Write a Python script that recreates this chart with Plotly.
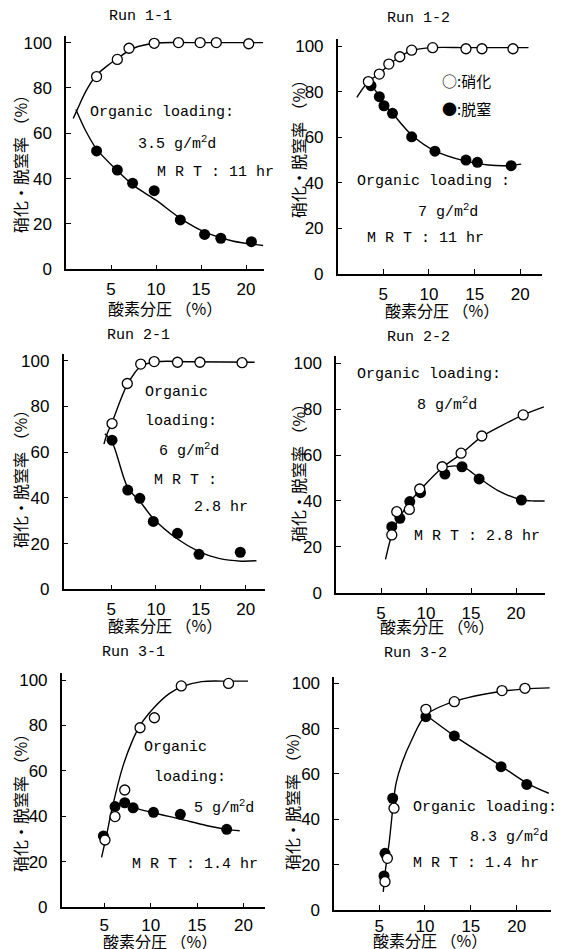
import plotly.graph_objects as go

# ---------------- data ----------------
x_tick_vals = [5, 10, 15, 20]
y_tick_vals = [0, 20, 40, 60, 80, 100]
run_titles = ["Run 1-1", "Run 1-2", "Run 2-1", "Run 2-2", "Run 3-1", "Run 3-2"]

# Run 1-1
r11_nit_x = [3.4, 5.7, 7.0, 9.8, 12.5, 14.9, 16.7, 20.3]
r11_nit_y = [85, 92.6, 97.5, 99.7, 100, 100, 100, 99.5]
r11_den_x = [3.4, 5.7, 7.4, 9.8, 12.7, 15.4, 17.2, 20.6]
r11_den_y = [52.2, 43.8, 38, 34.7, 21.8, 15.4, 13.7, 12.2]
r11_nit_fit_x = [0.8, 1.2, 2.2, 3.3, 4.5, 5.7, 7.5, 10, 14, 21.9]
r11_nit_fit_y = [66.5, 70, 78.5, 85.3, 89.5, 93, 97.5, 99.8, 100, 100]
r11_den_fit_x = [1.1, 2.2, 3.4, 5.7, 7.5, 10, 12.7, 15.4, 18.5, 21.9]
r11_den_fit_y = [70.5, 61, 53, 43.5, 37, 30.5, 22.5, 16.5, 12.5, 10.5]

# Run 1-2
r12_nit_x = [3.36, 4.56, 5.6, 6.8, 8.1, 10.4, 14.05, 15.8, 19.2]
r12_nit_y = [84.4, 87.7, 92.1, 95.3, 98.2, 99.3, 98.8, 98.8, 98.8]
r12_den_x = [3.65, 4.56, 5.07, 6.0, 8.1, 10.65, 14.05, 15.3, 19.0]
r12_den_y = [82.6, 77.8, 73.8, 70.5, 60.2, 53.9, 50, 49, 47.5]
r12_nit_fit_x = [2.1, 3.4, 4.6, 5.6, 6.8, 8.1, 10.4, 14, 20.9]
r12_nit_fit_y = [77.5, 84.5, 88, 91.7, 95.3, 98, 99.3, 99.3, 99.3]
r12_den_fit_x = [3.5, 4.6, 5.2, 6.0, 8.1, 10.65, 14, 16.5, 18.5, 20.1]
r12_den_fit_y = [83.5, 78, 74, 70.5, 61, 54, 49.5, 47.8, 47.5, 48.2]

# Run 2-1
r21_nit_x = [5.1, 6.8, 8.3, 9.8, 12.4, 14.9, 19.6]
r21_nit_y = [72.5, 90, 98.5, 99.6, 99.3, 99.3, 99.1]
r21_den_x = [5.1, 6.85, 8.2, 9.7, 12.4, 14.8, 19.4]
r21_den_y = [65.2, 43.4, 39.8, 29.7, 24.5, 15.3, 16.2]
r21_nit_fit_x = [4.2, 4.5, 5.1, 6.8, 8.3, 10, 14, 21.0]
r21_nit_fit_y = [63.5, 67.5, 73, 89.5, 97.5, 99.5, 99.5, 99.3]
r21_den_fit_x = [4.3, 5.1, 6.85, 8.2, 9.7, 12.4, 14.8, 17, 19.5, 21.2]
r21_den_fit_y = [68, 64.5, 44.5, 38.5, 31, 22, 16.5, 13.5, 12.3, 12.5]

# Run 2-2
r22_nit_x = [6.2, 6.75, 8.15, 9.3, 11.8, 13.9, 16.2, 20.8]
r22_nit_y = [25.2, 35.3, 36.3, 45.2, 54.9, 60.8, 68.3, 77.5]
r22_den_x = [6.2, 7.1, 8.2, 9.4, 12.1, 14.0, 15.9, 20.6]
r22_den_y = [28.8, 32.4, 39.7, 43.6, 51.7, 54.9, 49.6, 40.4]
r22_nit_fit_x = [5.5, 6.3, 7.1, 8.0, 9.4, 11.8, 13.9, 16.2, 18.5, 20.8, 23.1]
r22_nit_fit_y = [14.5, 26.5, 33, 38.5, 45, 54.5, 60.5, 68, 73, 77.5, 81]
r22_den_fit_x = [11.8, 13.2, 14.3, 15.9, 18, 20.6, 22, 23.2]
r22_den_fit_y = [54.5, 55.3, 54.5, 50, 44.5, 40.5, 40, 40]

# Run 3-1
r31_nit_x = [5.07, 6.15, 7.2, 8.85, 10.4, 13.3, 18.4]
r31_nit_y = [29.6, 39.9, 51.6, 79, 83.4, 97.4, 98.5]
r31_den_x = [4.9, 6.15, 7.2, 8.1, 10.3, 13.2, 18.2]
r31_den_y = [31.4, 44.3, 46, 43.8, 41.8, 40.9, 34.3]
r31_nit_fit_x = [4.7, 5.2, 5.8, 7.0, 8.0, 8.85, 10.4, 12, 13.3, 15.5, 18.4, 20.5]
r31_nit_fit_y = [22, 31, 42.8, 62, 73, 80, 88, 94, 97, 99.3, 99.5, 99.5]
r31_den_fit_x = [5.9, 6.5, 7.2, 8.1, 10.4, 13.2, 16, 18.2, 19.6]
r31_den_fit_y = [43, 45.5, 46, 44, 41.5, 38.8, 36, 34.3, 33.7]

# Run 3-2
r32_nit_x = [5.64, 5.9, 6.62, 10.1, 13.2, 18.4, 20.9]
r32_nit_y = [12.5, 22.8, 44.9, 88.5, 91.9, 96.8, 97.8]
r32_den_x = [5.53, 5.64, 6.48, 10.1, 13.2, 18.3, 21.1]
r32_den_y = [15, 25, 49.3, 85.3, 76.8, 63.2, 55.4]
r32_nit_fit_x = [5.45, 5.7, 6.1, 6.55, 6.85, 7.5, 8.55, 10.1, 13.2, 18.4, 20.9, 23.6]
r32_nit_fit_y = [8, 18, 30, 47, 56, 65, 75, 86, 92, 96.5, 97.5, 98]
r32_den_fit_x = [10.1, 13.2, 18.3, 21.1, 23.5]
r32_den_fit_y = [86, 76.8, 63.5, 56, 51.5]

panels = [
    (r11_nit_x, r11_nit_y, r11_den_x, r11_den_y, r11_nit_fit_x, r11_nit_fit_y, r11_den_fit_x, r11_den_fit_y),
    (r12_nit_x, r12_nit_y, r12_den_x, r12_den_y, r12_nit_fit_x, r12_nit_fit_y, r12_den_fit_x, r12_den_fit_y),
    (r21_nit_x, r21_nit_y, r21_den_x, r21_den_y, r21_nit_fit_x, r21_nit_fit_y, r21_den_fit_x, r21_den_fit_y),
    (r22_nit_x, r22_nit_y, r22_den_x, r22_den_y, r22_nit_fit_x, r22_nit_fit_y, r22_den_fit_x, r22_den_fit_y),
    (r31_nit_x, r31_nit_y, r31_den_x, r31_den_y, r31_nit_fit_x, r31_nit_fit_y, r31_den_fit_x, r31_den_fit_y),
    (r32_nit_x, r32_nit_y, r32_den_x, r32_den_y, r32_nit_fit_x, r32_nit_fit_y, r32_den_fit_x, r32_den_fit_y),
]

# ---------------- layout geometry ----------------
OFF = 8  # page body margin
W, H = 573 - OFF, 949 - OFF
x_ranges = [[0, 22], [0, 22.4], [-0.3, 22.2], [0, 23.2], [0.4, 22.3], [0.1, 23.7]]
y_range = [0, 103]
# pixel boxes in the window (left, right, bottom, top)
boxes = [
    (66, 264, 269.3, 35.8),
    (337.7, 542.2, 274, 39.2),
    (63.6, 265.4, 589.3, 353.8),
    (336, 544.8, 592.7, 356.4),
    (61.7, 264.7, 907.3, 673.2),
    (334.2, 550.6, 910, 676.5),
]
x_standoffs = [4, 4, 4, 4, 2, 0]
title_pos = [(140, 16), (418, 18), (138, 335), (418, 337), (133, 652), (415, 653)]
ylab_pos = [(20, 160), (298, 145), (20, 475), (298, 469), (20, 799), (292, 797)]
xlab_pos = [(165, 308), (442, 310), (165, 625), (437, 626), (160, 941), (430, 940)]

MONO = "Liberation Mono, Courier New, monospace"
SANS = "Liberation Sans, Arial, sans-serif"
CJK = "Noto Sans CJK JP"


def fx(px):
    return (px - OFF) / W


def fy(py):
    return 1 - (py - OFF) / H


fig = go.Figure()
layout = dict(
    template="none",
    width=W, height=H, margin=dict(l=0, r=0, t=0, b=0, autoexpand=False),
    paper_bgcolor="white", plot_bgcolor="white", showlegend=False,
)

annotations = []

for i, p in enumerate(panels):
    n = "" if i == 0 else str(i + 1)
    xa, ya = "x" + n, "y" + n
    nx, ny, dx, dy, nfx, nfy, dfx, dfy = p
    line = dict(color="black", width=1.4)
    fig.add_trace(go.Scatter(x=nfx, y=nfy, mode="lines", line=dict(shape="spline", smoothing=0.9, **line),
                             xaxis=xa, yaxis=ya, hoverinfo="skip"))
    fig.add_trace(go.Scatter(x=dfx, y=dfy, mode="lines", line=dict(shape="spline", smoothing=0.9, **line),
                             xaxis=xa, yaxis=ya, hoverinfo="skip"))
    fig.add_trace(go.Scatter(x=dx, y=dy, mode="markers",
                             marker=dict(symbol="circle", size=11, color="black"),
                             xaxis=xa, yaxis=ya, cliponaxis=False))
    fig.add_trace(go.Scatter(x=nx, y=ny, mode="markers",
                             marker=dict(symbol="circle", size=10, color="white",
                                         line=dict(color="black", width=1.3)),
                             xaxis=xa, yaxis=ya, cliponaxis=False))
    l, r, b, t = boxes[i]
    axis_common = dict(showgrid=False, zeroline=False, showline=True, linecolor="black",
                       linewidth=1.5, ticks="inside", ticklen=5, tickwidth=1.3, automargin=False,
                       tickcolor="black", tickfont=dict(family=SANS, size=17, color="black"))
    layout["xaxis" + n] = dict(axis_common, domain=[fx(l), fx(r)], range=x_ranges[i],
                                tickvals=x_tick_vals, anchor=ya, ticklabelstandoff=x_standoffs[i])
    layout["yaxis" + n] = dict(axis_common, domain=[fy(b), fy(t)], range=y_range,
                                tickvals=y_tick_vals, anchor=xa, ticklabelstandoff=9)
    tx, ty = title_pos[i]
    annotations.append(dict(x=fx(tx), y=fy(ty), xref="paper", yref="paper", text=run_titles[i],
                            xanchor="center", yanchor="middle",
                            showarrow=False, font=dict(family=MONO, size=15, color="black")))
    lx, ly = ylab_pos[i]
    annotations.append(dict(x=fx(lx), y=fy(ly), xref="paper", yref="paper", text="硝化・脱窒率 （%）",
                            xanchor="center", yanchor="middle",
                            textangle=-90, showarrow=False,
                            font=dict(family=CJK, size=16, color="black")))
    bx, by = xlab_pos[i]
    annotations.append(dict(x=fx(bx), y=fy(by), xref="paper", yref="paper", text="酸素分圧 （%）",
                            xanchor="center", yanchor="middle",
                            showarrow=False, font=dict(family=CJK, size=16, color="black")))

# text notes (subplot index, x, y, text, anchor)
notes = [
    (0, 2.4, 69, "Organic loading:", "left"),
    (0, 12.3, 55.7, "3.5 g/m<sup>2</sup>d", "center"),
    (0, 9.9, 42.5, "M R T : 11 hr", "left"),
    (1, 1.9, 40.4, "Organic loading :", "left"),
    (1, 12.1, 27.6, "7 g/m<sup>2</sup>d", "center"),
    (1, 3.0, 15.4, "M R T : 11 hr", "left"),
    (2, 8.55, 85.9, "Organic", "left"),
    (2, 8.55, 73.2, "loading:", "left"),
    (2, 9.1, 60.9, " 6 g/m<sup>2</sup>d", "left"),
    (2, 9.55, 47.8, "M R T :", "left"),
    (2, 14.0, 35.6, "2.8 hr", "left"),
    (3, 2.1, 95.3, "Organic loading:", "left"),
    (3, 12.3, 82.3, "8 g/m<sup>2</sup>d", "center"),
    (3, 8.4, 24.3, "M R T : 2.8 hr", "left"),
    (4, 9.06, 70.1, "Organic", "left"),
    (4, 10.1, 56.9, "loading:", "left"),
    (4, 14.5, 44.1, "5 g/m<sup>2</sup>d", "left"),
    (4, 7.8, 19.0, "M R T : 1.4 hr", "left"),
    (5, 8.5, 45.4, "Organic loading:", "left"),
    (5, 14.7, 32.6, "8.3 g/m<sup>2</sup>d", "left"),
    (5, 8.5, 20.3, "M R T : 1.4 hr", "left"),
]
for idx, x, y, txt, anc in notes:
    n = "" if idx == 0 else str(idx + 1)
    annotations.append(dict(x=x, y=y, xref="x" + n, yref="y" + n, text=txt, xanchor=anc,
                            yanchor="middle",
                            showarrow=False, font=dict(family=MONO, size=15, color="black")))

# legend in Run 1-2
legend_items = [("○:硝化", 85), ("●:脱窒", 72.8)]
for txt, y in legend_items:
    annotations.append(dict(x=11.2, y=y, xref="x2", yref="y2", text=txt, xanchor="left",
                            yanchor="middle",
                            showarrow=False, font=dict(family=CJK, size=15, color="black")))

layout["annotations"] = annotations
fig.update_layout(**layout)
fig.write_html("out.html")
